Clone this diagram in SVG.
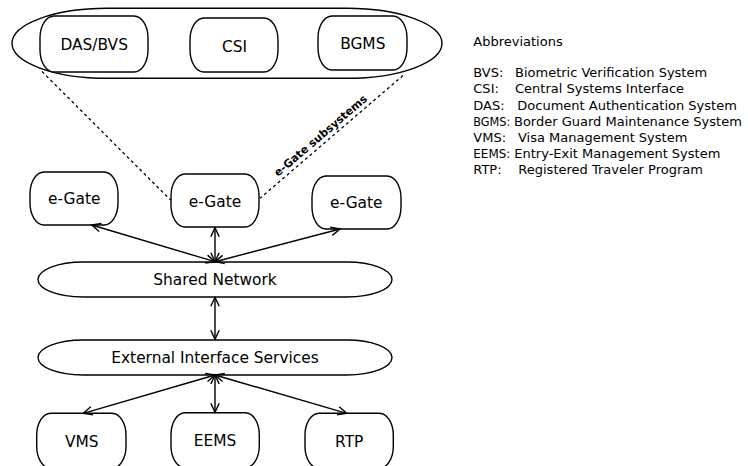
<svg xmlns="http://www.w3.org/2000/svg" width="748" height="466" viewBox="0 0 748 466">
  <defs>
    <marker id="head" viewBox="-10 -6 12 12" markerWidth="12" markerHeight="12" refX="0" refY="0" markerUnits="userSpaceOnUse" orient="auto-start-reverse">
      <path d="M-9,-4.2 L0,0 L-9,4.2" fill="none" stroke="#000" stroke-width="1.4"/>
    </marker>
  </defs>
  <style>
    .box { fill: #fff; stroke: #000; stroke-width: 1.4; }
    .lbl { font-family: "DejaVu Sans", sans-serif; font-size: 15.4px; fill: #000; text-anchor: middle; }
    .link { stroke: #000; stroke-width: 1.4; fill: none; marker-start: url(#head); marker-end: url(#head); }
    .dash { stroke: #000; stroke-width: 1.3; fill: none; stroke-dasharray: 3 3; }
    .legend { font-family: "DejaVu Sans", sans-serif; font-size: 13px; fill: #000; }
    .tag { font-family: "DejaVu Sans", sans-serif; font-size: 11px; font-weight: bold; fill: #000; text-anchor: middle; }
  </style>
  <rect width="748" height="466" fill="#fff"/>

  <!-- subsystem container -->
  <g id="subsystems">
    <path class="box" d="M107,8.3 H347 C399.5,8.3 442,24 442,43.3 C442,62.6 399.5,78.3 347,78.3 H107 C54.5,78.3 12,62.6 12,43.3 C12,24 54.5,8.3 107,8.3 Z"/>
  </g>
  <g id="das-bvs">
    <rect class="box" x="40" y="16" width="108" height="56" rx="14" ry="22"/>
    <text class="lbl" x="94.2" y="50">DAS/BVS</text>
  </g>
  <g id="csi">
    <rect class="box" x="190" y="18" width="88" height="54" rx="14" ry="22"/>
    <text class="lbl" x="234.5" y="51.5">CSI</text>
  </g>
  <g id="bgms">
    <rect class="box" x="318" y="16" width="89" height="54" rx="14" ry="22"/>
    <text class="lbl" x="362.8" y="48.5">BGMS</text>
  </g>

  <!-- dashed fan from gate to its subsystems -->
  <g id="subsystem-link">
    <path class="dash" d="M42,71.5 L170.5,200"/>
    <path class="dash" d="M403,75.5 L260,198.3"/>
    <text class="tag" transform="translate(323,138.5) rotate(-40.6)" x="0" y="0">e-Gate subsystems</text>
  </g>

  <g id="egate-left">
    <rect class="box" x="30" y="172" width="88" height="53" rx="14" ry="22"/>
    <text class="lbl" x="74.2" y="204">e-Gate</text>
  </g>
  <g id="egate-mid">
    <rect class="box" x="171" y="174" width="88" height="53" rx="14" ry="22"/>
    <text class="lbl" x="215" y="206.5">e-Gate</text>
  </g>
  <g id="egate-right">
    <rect class="box" x="312" y="176" width="89" height="53" rx="14" ry="22"/>
    <text class="lbl" x="356.3" y="208">e-Gate</text>
  </g>

  <g id="shared-network">
    <path class="box" d="M83,262 H347 C371.9,262 392,269.8 392,279.5 C392,289.2 371.9,297 347,297 H83 C58.1,297 38,289.2 38,279.5 C38,269.8 58.1,262 83,262 Z"/>
    <text class="lbl" x="215" y="285">Shared Network</text>
  </g>
  <g id="external-interface">
    <path class="box" d="M83,340 H347 C371.9,340 392,347.8 392,357.5 C392,367.2 371.9,375 347,375 H83 C58.1,375 38,367.2 38,357.5 C38,347.8 58.1,340 83,340 Z"/>
    <text class="lbl" x="215" y="363">External Interface Services</text>
  </g>

  <g id="vms">
    <rect class="box" x="36.7" y="413.3" width="89.3" height="55" rx="14" ry="22"/>
    <text class="lbl" x="81.7" y="446.5">VMS</text>
  </g>
  <g id="eems">
    <rect class="box" x="171" y="412.7" width="88.3" height="55" rx="14" ry="22"/>
    <text class="lbl" x="215" y="445.5">EEMS</text>
  </g>
  <g id="rtp">
    <rect class="box" x="305" y="413.3" width="88.3" height="55" rx="14" ry="22"/>
    <text class="lbl" x="349.2" y="446.5">RTP</text>
  </g>

  <!-- two-way connections -->
  <g id="connectors">
    <path class="link" d="M91.7,225 L215,261.7"/>
    <path class="link" d="M215,227.7 L215,261.7"/>
    <path class="link" d="M340,229 L215,261.7"/>
    <path class="link" d="M215,297.3 L215,339.3"/>
    <path class="link" d="M215,375 L83.3,413.3"/>
    <path class="link" d="M215,375 L215,412.3"/>
    <path class="link" d="M215,375 L346.7,413.3"/>
  </g>

  <!-- abbreviation key -->
  <g id="legend">
    <text class="legend" x="473.3" y="46">Abbreviations</text>
    <text class="legend" y="77.3"><tspan x="473.3">BVS:</tspan><tspan x="515">Biometric Verification System</tspan></text>
    <text class="legend" y="93.4"><tspan x="473.3">CSI:</tspan><tspan x="515">Central Systems Interface</tspan></text>
    <text class="legend" y="109.5"><tspan x="473.3">DAS:</tspan><tspan x="517.3">Document Authentication System</tspan></text>
    <text class="legend" y="125.6"><tspan x="473.3" textLength="37" lengthAdjust="spacingAndGlyphs">BGMS:</tspan><tspan x="514">Border Guard Maintenance System</tspan></text>
    <text class="legend" y="141.7"><tspan x="473.3">VMS:</tspan><tspan x="518">Visa Management System</tspan></text>
    <text class="legend" y="157.8"><tspan x="473.3" textLength="37" lengthAdjust="spacingAndGlyphs">EEMS:</tspan><tspan x="514.3">Entry-Exit Management System</tspan></text>
    <text class="legend" y="173.9"><tspan x="473.3">RTP:</tspan><tspan x="518.3">Registered Traveler Program</tspan></text>
  </g>
</svg>
